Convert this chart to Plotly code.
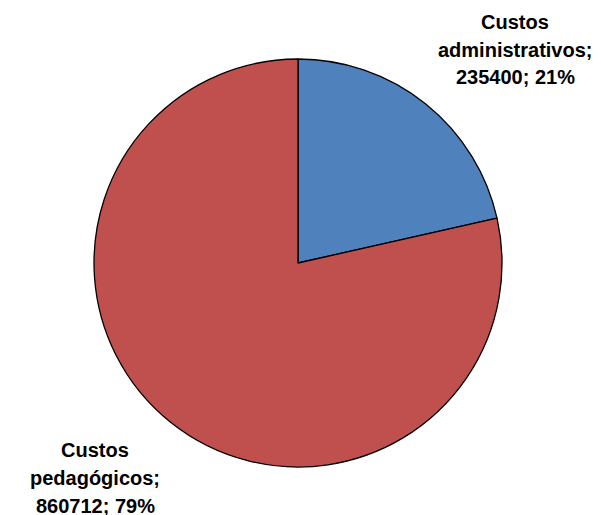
import plotly.graph_objects as go

categories = ["Custos administrativos", "Custos pedagógicos"]
values = [235400, 860712]
colors = ["#4F81BD", "#C0504D"]

W, H = 601, 515
OFF = 8  # page body margin offset compensation
total = sum(values)
pcts = [round(v / total * 100) for v in values]


def px(x):
    return (x - OFF) / W


def py(y):
    return 1 - (y - OFF) / H


fig = go.Figure(go.Pie(
    labels=categories,
    values=values,
    sort=False,
    direction="clockwise",
    rotation=0,
    marker=dict(colors=colors, line=dict(color="black", width=1.3)),
    textinfo="none",
    hoverinfo="label+value+percent",
    showlegend=False,
    domain=dict(x=[px(94), px(502)], y=[py(467), py(59)]),
))

# label lines: split category name into words, then "value; pct%"
label_pos = [(515, [22, 50, 77]), (95, [450, 478, 506])]
for cat, v, p, (cx, ys) in zip(categories, values, pcts, label_pos):
    words = cat.split(" ")
    lines = [words[0], words[1] + ";", f"{v}; {p}%"]
    for line, y in zip(lines, ys):
        fig.add_annotation(
            x=px(cx), y=py(y), xref="paper", yref="paper",
            text=f"<b>{line}</b>", showarrow=False,
            xanchor="center", yanchor="middle",
            font=dict(family="Liberation Sans, Arial", size=20, color="black"),
        )

fig.update_layout(
    width=W, height=H,
    margin=dict(l=0, r=0, t=0, b=0),
    paper_bgcolor="white", plot_bgcolor="white",
)
fig.write_html("out.html")
